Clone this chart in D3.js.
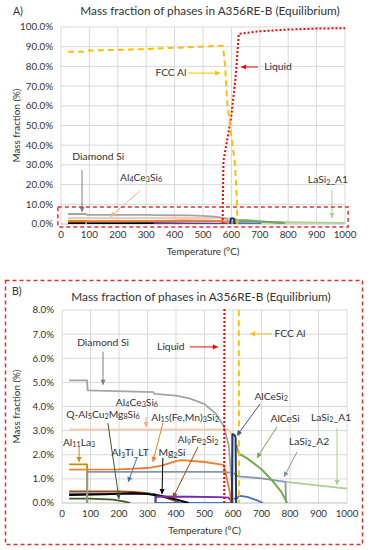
<!DOCTYPE html>
<html><head><meta charset="utf-8">
<script src="https://cdn.jsdelivr.net/npm/d3@7"></script>
<style>
body{margin:0;background:#fff}
svg{display:block}
text{font-family:Lato,"Open Sans",sans-serif;fill:#333}
</style>
</head><body>
<svg id="c" width="373" height="550"></svg>
<script>
// ---------- DATA ----------
const xTicks = [0,100,200,300,400,500,600,700,800,900,1000];
const yTicksA = [0,10,20,30,40,50,60,70,80,90,100];
const yTicksB = [0,1,2,3,4,5,6,7,8];

// [Temperature °C, mass fraction %]
const fccAl = [[25,87.5],[85,87.5],[90,88.0],[300,88.8],[570,90.5],[578,80],[585,62],[595,50],[613,30],[620,10],[621,0]];
const liquid = [[569,0],[572,32],[600,55],[615,75],[626,96.5],[700,97.8],[800,98.7],[900,99.2],[1000,99.4]];
const diamondSi = [[25,5.08],[88,5.08],[90,4.67],[320,4.6],[325,4.52],[400,4.45],[450,4.33],[500,4.1],[540,3.7],[567,3.2],[585,2.4],[597,0.6],[600,0]];
const al4ce3si6 = [[25,3.05],[585,3.05],[594,2.9],[598,2.5],[600,0]];
const al15fe = [[25,1.38],[200,1.39],[300,1.45],[350,1.55],[400,1.74],[420,1.78],[500,1.7],[567,1.58],[575,1.2],[588,0.5],[595,0]];
const al11la3 = [[25,1.6],[88,1.6],[89,0]];
const lasi2A2 = [[88,0],[89,1.29],[565,1.29],[600,1.25],[618,1.1],[700,1.02],[784,0.88],[786,0]];
const lasi2A1 = [[784,0.88],[1000,0.6]];
const alcesi = [[612,2.4],[620,2.05],[650,1.85],[700,1.4],[740,0.9],[770,0.45],[790,0]];
const alcesi2 = [[596,0],[598,2.85],[601,2.85],[606,2.8],[609,2.72],[611,0]];
const al3tiLT = [[25,0.38],[326,0.38],[328,0],[595,0],[598,0.16],[615,0.2],[621,0.3],[650,0.25],[680,0.13],[705,0]];
const al9fe2si2 = [[25,0.48],[200,0.48],[250,0.46],[300,0.4],[350,0.28],[390,0.12],[415,0]];
const mg2si = [[25,0.33],[150,0.36],[250,0.4],[300,0.37],[350,0.29],[400,0.15],[445,0]];
const qPhase = [[25,0.18],[100,0.18],[180,0.14],[220,0.06],[240,0]];
const otherPhase = [[328,0],[330,0.27],[450,0.26],[550,0.24],[585,0.22],[592,0.1],[595,0]];

const series = [
  {name:"Q-Al5Cu2Mg8Si6", data:qPhase, color:"#3a5f22", w:1.8},
  {name:"Al9Fe2Si2", data:al9fe2si2, color:"#9E480E", w:2},
  {name:"Al3Ti_LT", data:al3tiLT, color:"#4472C4", w:1.8},
  {name:"Mg2Si", data:mg2si, color:"#000000", w:2},
  {name:"Other", data:otherPhase, color:"#7030A0", w:1.8},
  {name:"Al11La3", data:al11la3, color:"#BF9000", w:1.8},
  {name:"LaSi2_A2", data:lasi2A2, color:"#8497B0", w:1.8},
  {name:"LaSi2_A1", data:lasi2A1, color:"#A9D18E", w:1.8},
  {name:"Al15(Fe,Mn)3Si2", data:al15fe, color:"#ED7D31", w:1.8},
  {name:"Al4Ce3Si6", data:al4ce3si6, color:"#F8CBAD", w:1.8},
  {name:"Diamond Si", data:diamondSi, color:"#A5A5A5", w:1.8},
  {name:"AlCeSi", data:alcesi, color:"#70AD47", w:2},
  {name:"AlCeSi2", data:alcesi2, color:"#1F3864", w:2},
  {name:"Liquid", data:liquid, color:"#FF0000", w:2, dash:"2,2"},
  {name:"FCC Al", data:fccAl, color:"#FFC000", w:2, dash:"6,4"}
];

// annotations: label centre [T,%], arrow from -> to in [T,%]
const annA = [
  {t:"Diamond Si", at:[40,34], x:[74,27.4], y:[74,6.1], c:"#7F7F7F", anchor:"start"},
  {t:"Al{4}Ce{3}Si{6}", at:[282,23.4], x:[278,16.8], y:[173,3.6], c:"#F4B183"},
  {t:"LaSi{2}_A1", at:[940,22.3], x:[954,17.3], y:[954,3.0], c:"#A9D18E"},
  {t:"FCC Al", at:[387,76.6], x:[447,76.6], y:[560,76.6], c:"#FFC000"},
  {t:"Liquid", at:[764,79.7], x:[694,79.7], y:[634,79.7], c:"#FF0000"}
];
const annB = [
  {t:"Diamond Si", at:[144,6.64], x:[144,6.27], y:[144,4.9], c:"#7F7F7F"},
  {t:"Liquid", at:[382,6.47], x:[449,6.47], y:[547,6.47], c:"#FF0000"},
  {t:"FCC Al", at:[800,7.01], x:[737,7.01], y:[660,7.01], c:"#FFC000"},
  {t:"AlCeSi{2}", at:[734,4.4], x:[695,4.1], y:[614,2.8], c:"#2F5597"},
  {t:"AlCeSi", at:[783,3.49], x:[754,3.15], y:[684,1.87], c:"#70AD47"},
  {t:"LaSi{2}_A1", at:[944,3.53], x:[965,3.11], y:[965,0.75], c:"#A9D18E"},
  {t:"LaSi{2}_A2", at:[867,2.53], x:[825,2.12], y:[779,1.08], c:"#8497B0"},
  {t:"Al{4}Ce{3}Si{6}", at:[263,4.15], x:[295,3.57], y:[295,3.15], c:"#F4B183"},
  {t:"Q-Al{5}Cu{2}Mg{8}Si{6}", at:[144,3.65], x:[161,3.32], y:[200,0.17], c:"#3a5f22"},
  {t:"Al{15}(Fe,Mn){3}Si{2}", at:[432,3.53], x:[354,3.32], y:[319,1.70], c:"#ED7D31"},
  {t:"Al{11}La{3}", at:[60,2.49], x:[60,2.32], y:[60,1.70], c:"#BF9000"},
  {t:"Al{3}Ti_LT", at:[239,2.07], x:[263,1.87], y:[232,0.87], c:"#4472C4"},
  {t:"Al{9}Fe{2}Si{2}", at:[477,2.61], x:[477,2.32], y:[389,0.21], c:"#9E480E"},
  {t:"Mg{2}Si", at:[386,2.07], x:[354,1.87], y:[351,0.37], c:"#000000"}
];

// ---------- DRAW ----------
const svg = d3.select("#c");

function richText(g, str, x, y, size, anchor){
  const t = g.append("text").attr("x",x).attr("y",y).attr("font-size",size)
    .attr("text-anchor",anchor||"middle").attr("dominant-baseline","middle");
  const parts = str.split(/(\{[^}]*\})/).filter(s=>s.length);
  let sub=false;
  parts.forEach(p=>{
    if(p[0]==="{"){
      t.append("tspan").attr("font-size",size*0.7).attr("dy",sub?0:2.5).text(p.slice(1,-1));
      sub=true;
    } else {
      t.append("tspan").attr("dy",sub?-2.5:0).text(p);
      sub=false;
    }
  });
  return t;
}

function arrow(g, x1,y1,x2,y2,c){
  g.append("line").attr("x1",x1).attr("y1",y1).attr("x2",x2).attr("y2",y2)
    .attr("stroke",c).attr("stroke-width",1);
  const a=Math.atan2(y2-y1,x2-x1), L=5, W=2.6;
  const p=[[x2,y2],[x2-L*Math.cos(a)+W*Math.sin(a), y2-L*Math.sin(a)-W*Math.cos(a)],
           [x2-L*Math.cos(a)-W*Math.sin(a), y2-L*Math.sin(a)+W*Math.cos(a)]];
  g.append("polygon").attr("points",p.map(d=>d.join(",")).join(" ")).attr("fill",c);
}

function panel(cfg){
  const g = svg.append("g");
  const x = d3.scaleLinear().domain([0,1000]).range(cfg.xr);
  const y = d3.scaleLinear().domain([0,cfg.ymax]).range(cfg.yr);
  const id = "clip"+cfg.id;
  svg.append("clipPath").attr("id",id).append("rect")
    .attr("x",cfg.xr[0]).attr("y",cfg.yr[1]-1).attr("width",cfg.xr[1]-cfg.xr[0]+2).attr("height",cfg.yr[0]-cfg.yr[1]+1);
  // grid
  g.selectAll(".gx").data(xTicks).enter().append("line")
    .attr("x1",d=>x(d)).attr("x2",d=>x(d)).attr("y1",cfg.yr[0]).attr("y2",cfg.yr[1])
    .attr("stroke","#D9D9D9").attr("stroke-width",1);
  g.selectAll(".gy").data(cfg.yt).enter().append("line")
    .attr("x1",cfg.xr[0]).attr("x2",cfg.xr[1]).attr("y1",d=>y(d)).attr("y2",d=>y(d))
    .attr("stroke",d=>d===0?"#BFBFBF":"#D9D9D9").attr("stroke-width",1);
  // tick labels
  g.selectAll(".tx").data(xTicks).enter().append("text")
    .attr("x",d=>x(d)).attr("y",cfg.yr[0]+14).attr("text-anchor","middle")
    .attr("font-size",9.8).attr("fill","#404040").text(d=>d);
  g.selectAll(".ty").data(cfg.yt).enter().append("text")
    .attr("x",cfg.xr[0]-8).attr("y",d=>y(d)).attr("dy","0.35em").attr("text-anchor","end")
    .attr("font-size",9.8).attr("fill","#404040").text(d=>d3.format(".1f")(d)+"%");
  // axis titles
  g.append("text").attr("x",(cfg.xr[0]+cfg.xr[1])/2).attr("y",cfg.yr[0]+31).attr("text-anchor","middle")
    .attr("font-size",9.8).attr("fill","#404040").text("Temperature (°C)");
  g.append("text").attr("transform",`translate(${cfg.ytx},${(cfg.yr[0]+cfg.yr[1])/2}) rotate(-90)`)
    .attr("text-anchor","middle").attr("font-size",9.8).attr("fill","#404040").text("Mass fraction (%)");
  // title
  g.append("text").attr("x",cfg.titleX).attr("y",cfg.titleY).attr("text-anchor","middle")
    .attr("font-size",11.8).attr("fill","#333").text(cfg.title);
  // series
  const line = d3.line().x(d=>x(d[0])).y(d=>y(d[1]));
  const lg = g.append("g").attr("clip-path",`url(#${id})`);
  series.forEach(s=>{
    lg.append("path").attr("d",line(s.data)).attr("fill","none")
      .attr("stroke",s.color).attr("stroke-width",s.w)
      .attr("stroke-dasharray",s.dash||null).attr("stroke-linejoin","round");
  });
  // annotations
  cfg.ann.forEach(a=>{
    arrow(g, x(a.x[0]),y(a.x[1]),x(a.y[0]),y(a.y[1]),a.c);
    richText(g, a.t, x(a.at[0]), y(a.at[1]), 10.3, a.anchor);
  });
  return {g,x,y};
}

const A = panel({id:"A", xr:[61,345], yr:[224,27], ymax:100, yt:yTicksA, ytx:20,
  title:"Mass fraction of phases in A356RE-B  (Equilibrium)", titleX:210, titleY:15, ann:annA});
// inset rectangle on A
A.g.append("rect").attr("x",A.x(-11)).attr("y",A.y(8.6)).attr("width",A.x(1011)-A.x(-11))
  .attr("height",A.y(-1.5)-A.y(8.6)).attr("fill","none").attr("stroke","#E03030")
  .attr("stroke-width",1.5).attr("stroke-dasharray","4,3");
svg.append("text").attr("x",13).attr("y",15).attr("font-size",10.5).text("A)");

const B = panel({id:"B", xr:[62,347], yr:[503,310], ymax:8, yt:yTicksB, ytx:20,
  title:"Mass fraction of phases in A356RE-B (Equilibrium)", titleX:201, titleY:301, ann:annB});
svg.append("text").attr("x",12).attr("y",295).attr("font-size",10.5)
  .attr("font-family","'Liberation Serif',serif").text("B)");
svg.append("rect").attr("x",5.5).attr("y",280.5).attr("width",357).attr("height",264)
  .attr("fill","none").attr("stroke","#E03030").attr("stroke-width",1.5).attr("stroke-dasharray","4,3");
</script>
</body></html>
